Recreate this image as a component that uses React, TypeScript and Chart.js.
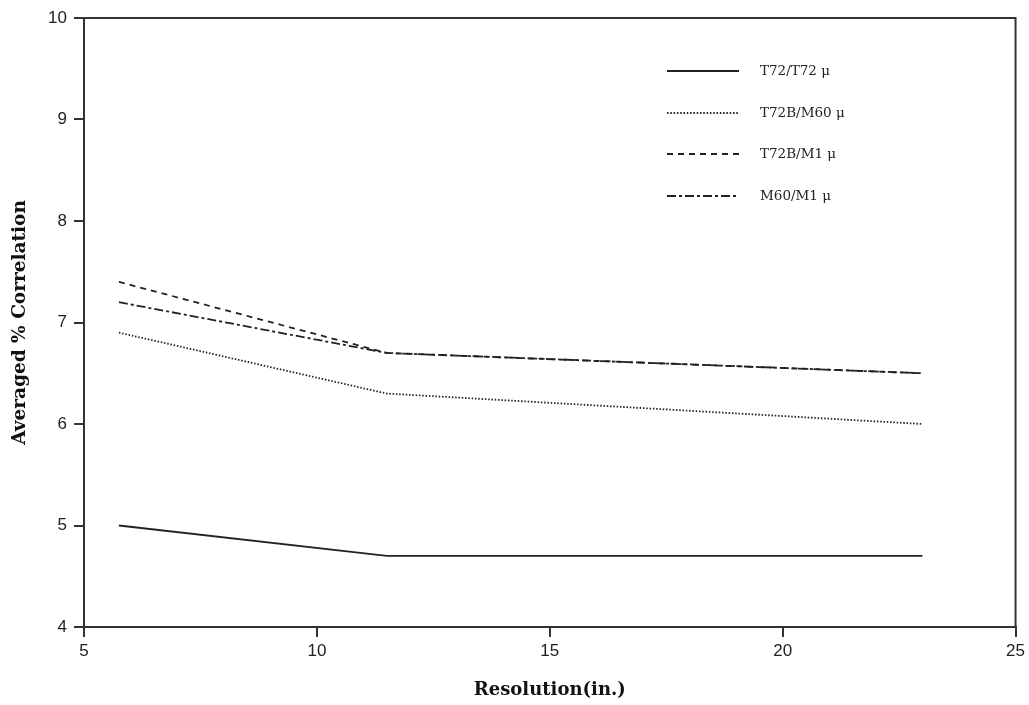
import React, { useEffect, useRef } from "react";
import { Chart, registerables } from "chart.js";

Chart.register(...registerables);

const resolution = [5.75, 11.5, 23];
const t72t72 = [5.0, 4.7, 4.7];
const t72bM60 = [6.9, 6.3, 6.0];
const t72bM1 = [7.4, 6.7, 6.5];
const m60M1 = [7.2, 6.7, 6.5];

const seriesLabels = ["T72/T72 \u03bc", "T72B/M60 \u03bc", "T72B/M1 \u03bc", "M60/M1 \u03bc"];
const seriesValues = [t72t72, t72bM60, t72bM1, m60M1];
const seriesDash = [[], [1.5, 1.8], [6, 5], [9, 3, 3, 3]];

const xTitle = "Resolution(in.)";
const yTitle = "Averaged % Correlation";

const boxPlugin = {
  id: "boxAndLegend",
  afterDraw(chart: any) {
    const { ctx, chartArea } = chart;
    ctx.save();
    ctx.strokeStyle = "#333";
    ctx.lineWidth = 2;
    ctx.beginPath();
    ctx.moveTo(chartArea.left, chartArea.top);
    ctx.lineTo(chartArea.right, chartArea.top);
    ctx.lineTo(chartArea.right, chartArea.bottom);
    ctx.stroke();

    const rowsY = [71, 113, 154, 196];
    chart.data.datasets.forEach((ds: any, i: number) => {
      const y = rowsY[i];
      ctx.strokeStyle = "#222";
      ctx.lineWidth = 1.8;
      ctx.setLineDash(ds.borderDash || []);
      ctx.beginPath();
      ctx.moveTo(667, y);
      ctx.lineTo(739, y);
      ctx.stroke();
      ctx.setLineDash([]);
      ctx.fillStyle = "#222";
      ctx.font = "13.5px 'DejaVu Serif'";
      ctx.textBaseline = "middle";
      ctx.textAlign = "left";
      ctx.fillText(ds.label, 760, y);
    });
    ctx.restore();
  },
};

export default function App() {
  const ref = useRef<HTMLCanvasElement>(null);
  useEffect(() => {
    if (!ref.current) return;
    const chart = new Chart(ref.current, {
      type: "line",
      data: {
        datasets: seriesLabels.map((label, i) => ({
          label,
          data: resolution.map((x, j) => ({ x, y: seriesValues[i][j] })),
          borderColor: "#222",
          borderWidth: 1.8,
          borderDash: seriesDash[i],
          pointRadius: 0,
          fill: false,
          tension: 0,
        })),
      },
      options: {
        animation: false,
        responsive: true,
        maintainAspectRatio: false,
        layout: { padding: { left: 0, top: 18, right: 13, bottom: 0 } },
        plugins: { legend: { display: false }, tooltip: { enabled: false } },
        scales: {
          x: {
            type: "linear",
            min: 5,
            max: 25,
            ticks: {
              stepSize: 5,
              color: "#222",
              padding: 4,
              font: { family: "'Liberation Sans', Arial", size: 17 },
            },
            grid: { drawOnChartArea: false, drawTicks: true, tickLength: 10, color: "#333", lineWidth: 2 },
            border: { display: true, color: "#333", width: 2 },
            title: {
              display: true,
              text: xTitle,
              color: "#111",
              font: { family: "'DejaVu Serif'", size: 18, weight: "bold" },
              padding: { top: 0, bottom: 4 },
            },
            afterFit(scale: any) {
              scale.height = 78;
            },
          },
          y: {
            type: "linear",
            min: 4,
            max: 10,
            ticks: {
              stepSize: 1,
              color: "#222",
              padding: 7,
              font: { family: "'Liberation Sans', Arial", size: 17 },
            },
            grid: { drawOnChartArea: false, drawTicks: true, tickLength: 10, color: "#333", lineWidth: 2 },
            border: { display: true, color: "#333", width: 2 },
            title: {
              display: true,
              text: yTitle,
              color: "#111",
              font: { family: "'DejaVu Serif'", size: 18.5, weight: "bold" },
              padding: { top: 9, bottom: 0 },
            },
            afterFit(scale: any) {
              scale.width = 84;
            },
          },
        },
      },
      plugins: [boxPlugin],
    });
    return () => chart.destroy();
  }, []);
  return (
    <div style={{ position: "absolute", left: 0, top: 0, width: 1029, height: 705, background: "#fff" }}>
      <canvas ref={ref} />
    </div>
  );
}
